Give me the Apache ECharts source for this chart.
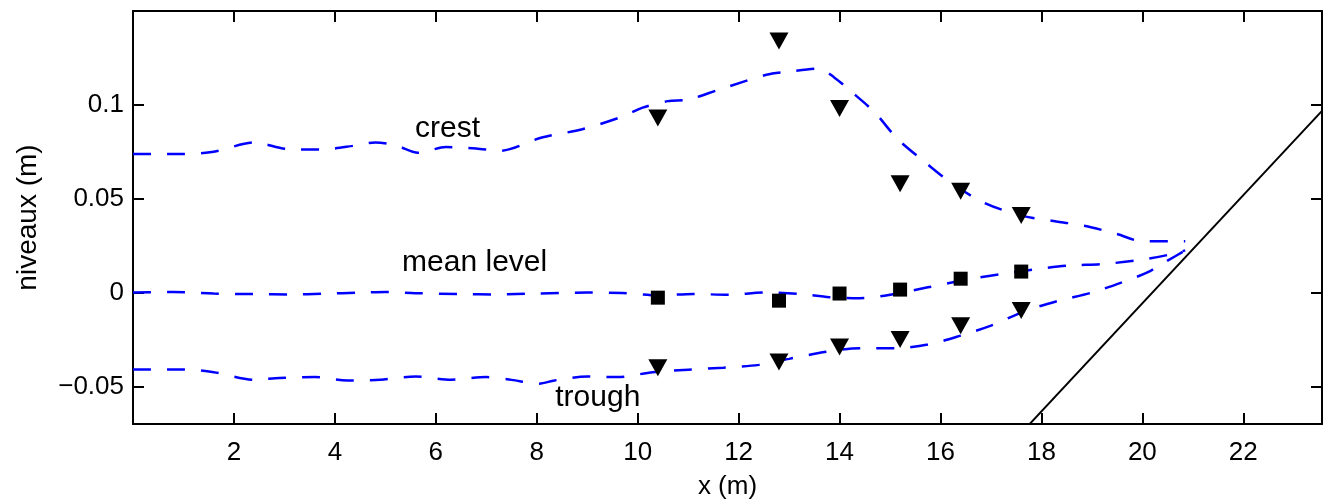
<!DOCTYPE html>
<html>
<head>
<meta charset="utf-8">
<script src="https://cdn.jsdelivr.net/npm/echarts@6/dist/echarts.min.js"></script>
<style>
html,body{margin:0;padding:0;background:#fff;}
#chart{width:1323px;height:499px;}
</style>
</head>
<body>
<div id="chart"></div>
<script>
// ---- data ----
var xTicks = [2, 4, 6, 8, 10, 12, 14, 16, 18, 20, 22];
var yTicks = [-0.05, 0, 0.05, 0.1];

var crestX = [0, 0.9, 1.6, 2.4, 3.05, 3.7, 4.4, 4.8, 5.2, 5.65, 6.2, 6.8, 7.25, 8.1, 8.9, 9.65, 10.1, 10.6, 11.0, 11.6, 12.55, 13.0, 13.6, 13.9, 14.2, 14.7, 15.15, 15.7, 16.2, 16.85, 17.6, 18.2, 18.85, 19.5, 20.0, 20.85];
var crestY = [0.0738, 0.0738, 0.075, 0.080, 0.0765, 0.0762, 0.0783, 0.0800, 0.0785, 0.0745, 0.0775, 0.0768, 0.0755, 0.0826, 0.087, 0.0933, 0.0985, 0.102, 0.1028, 0.108, 0.116, 0.1177, 0.1193, 0.1145, 0.1078, 0.0959, 0.0818, 0.0693, 0.0587, 0.048, 0.041, 0.0383, 0.0356, 0.0312, 0.0273, 0.0273];

var meanX = [0, 0.8, 1.6, 2.4, 3.1, 3.8, 4.5, 5.0, 5.6, 6.5, 7.2, 8.0, 9.0, 9.7, 10.4, 11.1, 11.8, 12.5, 13.2, 13.8, 14.4, 15.1, 15.75, 16.6, 17.25, 17.95, 18.55, 19.2, 19.85, 20.5, 20.85];
var meanY = [0, 0.0003, -0.0005, -0.0008, -0.001, -0.0006, 0, 0.0003, -0.0003, -0.0008, -0.001, -0.0005, 0, -0.0002, -0.0015, -0.0007, -0.0012, 0, -0.0007, -0.0025, -0.003, -0.0007, 0.0028, 0.0073, 0.010, 0.0126, 0.0144, 0.0152, 0.017, 0.020, 0.0225];

var troughX = [0, 1.0, 1.6, 2.4, 2.9, 3.6, 4.25, 4.9, 5.6, 6.3, 7.0, 7.5, 8.05, 8.35, 9.0, 9.6, 10.3, 11.0, 11.7, 12.4, 13.0, 13.7, 14.4, 15.1, 15.75, 16.4, 17.0, 17.7, 18.35, 19.0, 19.6, 20.1, 20.5, 20.85];
var troughY = [-0.041, -0.041, -0.0424, -0.0464, -0.0455, -0.045, -0.0468, -0.0464, -0.0447, -0.0464, -0.045, -0.0465, -0.0485, -0.0468, -0.0447, -0.045, -0.0424, -0.0411, -0.040, -0.0385, -0.0353, -0.0317, -0.0296, -0.0296, -0.0277, -0.0229, -0.0176, -0.0096, -0.0043, 0.0, 0.0055, 0.0108, 0.017, 0.0225];

var obsX = [10.4, 12.8, 14.0, 15.2, 16.4, 17.6];
var obsCrest = [0.093, 0.134, 0.098, 0.058, 0.054, 0.041];
var obsMean = [-0.0027, -0.0043, -0.0005, 0.0016, 0.0074, 0.0112];
var obsTrough = [-0.040, -0.037, -0.029, -0.025, -0.0176, -0.0096];

var beachX = [17.76, 23.56];
var beachY = [-0.0702, 0.0968];

var labelTexts = ['crest', 'mean level', 'trough'];
var labelX = [6.234, 6.77, 9.21];
var labelY = [0.0871, 0.016, -0.0561];

// ---- build ----
function zip(xs, ys) { return xs.map(function (x, i) { return [x, ys[i]]; }); }

var FONT = 'Liberation Sans';
var X_MIN = 0, X_MAX = 23.56, Y_MIN = -0.07, Y_MAX = 0.15;

function fmtY(v) {
  if (v < 0) return '\u2212' + String(Math.abs(v));
  return String(v);
}

var dashStyle = { color: '#0000ff', width: 2.5, type: [18, 16], opacity: 1 };

var chart = echarts.init(document.getElementById('chart'), null, { renderer: 'canvas' });
chart.setOption({
  animation: false,
  backgroundColor: '#ffffff',
  grid: { left: 133, right: 1, top: 11, bottom: 75, containLabel: false, outerBoundsMode: 'none' },
  xAxis: [
    {
      type: 'value', min: X_MIN, max: X_MAX, position: 'bottom',
      name: 'x (m)', nameLocation: 'middle', nameGap: 50,
      nameTextStyle: { fontFamily: FONT, fontSize: 26, color: '#000' },
      axisLine: { show: true, onZero: false, lineStyle: { color: '#000', width: 2 } },
      axisTick: { show: true, inside: true, length: 11, customValues: xTicks, lineStyle: { color: '#000', width: 2 } },
      axisLabel: { show: true, customValues: xTicks, margin: 16, fontFamily: FONT, fontSize: 26, color: '#000' },
      splitLine: { show: false }
    },
    {
      type: 'value', min: X_MIN, max: X_MAX, position: 'top',
      axisLine: { show: true, onZero: false, lineStyle: { color: '#000', width: 2 } },
      axisTick: { show: true, inside: true, length: 11, customValues: xTicks, lineStyle: { color: '#000', width: 2 } },
      axisLabel: { show: false },
      splitLine: { show: false }
    }
  ],
  yAxis: [
    {
      type: 'value', min: Y_MIN, max: Y_MAX, position: 'left',
      name: 'niveaux (m)', nameLocation: 'middle', nameGap: 91, nameRotate: 90,
      nameTextStyle: { fontFamily: FONT, fontSize: 28, color: '#000' },
      axisLine: { show: true, onZero: false, lineStyle: { color: '#000', width: 2 } },
      axisTick: { show: true, inside: true, length: 11, customValues: yTicks, lineStyle: { color: '#000', width: 2 } },
      axisLabel: { show: true, customValues: yTicks, margin: 9, fontFamily: FONT, fontSize: 26, color: '#000', formatter: fmtY },
      splitLine: { show: false }
    },
    {
      type: 'value', min: Y_MIN, max: Y_MAX, position: 'right',
      axisLine: { show: true, onZero: false, lineStyle: { color: '#000', width: 2 } },
      axisTick: { show: true, inside: true, length: 11, customValues: yTicks, lineStyle: { color: '#000', width: 2 } },
      axisLabel: { show: false },
      splitLine: { show: false }
    }
  ],
  series: [
    { type: 'line', name: 'crest', data: zip(crestX, crestY), showSymbol: false, smooth: 0.3, lineStyle: dashStyle, clip: true, z: 2 },
    { type: 'line', name: 'mean', data: zip(meanX, meanY), showSymbol: false, smooth: 0.3, lineStyle: dashStyle, clip: true, z: 2 },
    { type: 'line', name: 'trough', data: zip(troughX, troughY), showSymbol: false, smooth: 0.3, lineStyle: dashStyle, clip: true, z: 2 },
    { type: 'line', name: 'beach', data: zip(beachX, beachY), showSymbol: false, lineStyle: { color: '#000', width: 2, type: 'solid', opacity: 1 }, clip: true, z: 2 },
    { type: 'scatter', name: 'obs crest', data: zip(obsX, obsCrest), symbol: 'triangle', symbolRotate: 180, symbolSize: [19, 17], itemStyle: { color: '#000', opacity: 1 }, z: 3 },
    { type: 'scatter', name: 'obs trough', data: zip(obsX, obsTrough), symbol: 'triangle', symbolRotate: 180, symbolSize: [19, 17], itemStyle: { color: '#000', opacity: 1 }, z: 3 },
    { type: 'scatter', name: 'obs mean', data: zip(obsX, obsMean), symbol: 'rect', symbolSize: [14, 14], itemStyle: { color: '#000', opacity: 1 }, z: 3 },
    {
      type: 'scatter', name: 'labels', symbolSize: 0, silent: true, z: 4,
      itemStyle: { opacity: 1 },
      data: labelTexts.map(function (t, i) { return { value: [labelX[i], labelY[i]], name: t }; }),
      label: { show: true, position: 'inside', formatter: function (p) { return p.name; }, fontFamily: FONT, fontSize: 30, color: '#000', opacity: 1 }
    }
  ]
});
</script>
</body>
</html>
